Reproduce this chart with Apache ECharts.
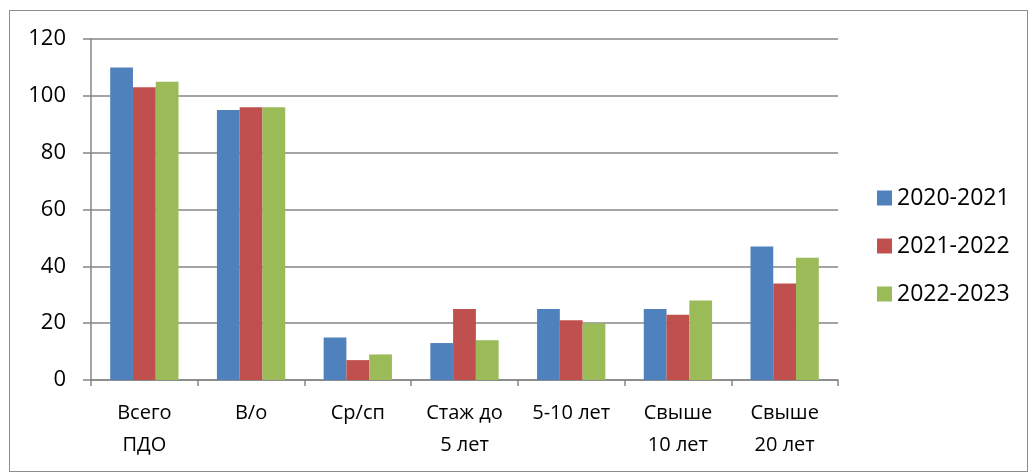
<!DOCTYPE html>
<html>
<head>
<meta charset="utf-8">
<script src="https://cdn.jsdelivr.net/npm/echarts@6/dist/echarts.min.js"></script>
<style>
html,body{margin:0;padding:0;background:#fff;}
#frame{position:absolute;left:9px;top:10px;width:1019px;height:462px;border:1px solid #8c8c8c;box-sizing:border-box;}
#chart{position:absolute;left:0;top:0;width:1035px;height:475px;}
</style>
</head>
<body>
<div id="frame"></div>
<div id="chart"></div>
<script>
const categories = ['Всего\nПДО', 'В/о', 'Ср/сп', 'Стаж до\n5 лет', '5-10 лет', 'Свыше\n10 лет', 'Свыше\n20 лет'];
const seriesNames = ['2020-2021', '2021-2022', '2022-2023'];
const s2020 = [110, 95, 15, 13, 25, 25, 47];
const s2021 = [103, 96, 7, 25, 21, 23, 34];
const s2022 = [105, 96, 9, 14, 20, 28, 43];
const colors = ['#4F81BD', '#C0504D', '#9BBB59'];

const chart = echarts.init(document.getElementById('chart'), null, {renderer: 'canvas'});
const font = '"Open Sans", "Noto Sans", sans-serif';
chart.setOption({
  animation: false,
  color: colors,
  textStyle: {fontFamily: font},
  grid: {left: 91, right: 197, top: 39, bottom: 95, containLabel: false},
  legend: {
    orient: 'vertical',
    left: 872,
    top: 181,
    itemWidth: 15,
    itemHeight: 15,
    itemGap: 24,
    icon: 'rect',
    textStyle: {fontSize: 23, lineHeight: 24, color: '#000', fontFamily: font},
    data: seriesNames
  },
  xAxis: {
    type: 'category',
    data: categories,
    axisLine: {lineStyle: {color: '#868686', width: 1.5}},
    axisTick: {show: true, length: 6, lineStyle: {color: '#868686', width: 1.5}},
    axisLabel: {fontSize: 20, color: '#000', margin: 17, lineHeight: 32, interval: 0, fontFamily: font}
  },
  yAxis: {
    type: 'value',
    min: 0,
    max: 120,
    interval: 20,
    axisLine: {show: true, lineStyle: {color: '#868686', width: 1.5}},
    axisTick: {show: true, length: 8, lineStyle: {color: '#868686', width: 1.5}},
    splitLine: {lineStyle: {color: '#868686', width: 1.5}},
    axisLabel: {fontSize: 22, color: '#000', margin: 25, fontFamily: font}
  },
  series: [
    {name: seriesNames[0], type: 'bar', data: s2020, barGap: '0%', barCategoryGap: '36%'},
    {name: seriesNames[1], type: 'bar', data: s2021, barGap: '0%', barCategoryGap: '36%'},
    {name: seriesNames[2], type: 'bar', data: s2022, barGap: '0%', barCategoryGap: '36%'}
  ]
});
</script>
</body>
</html>
